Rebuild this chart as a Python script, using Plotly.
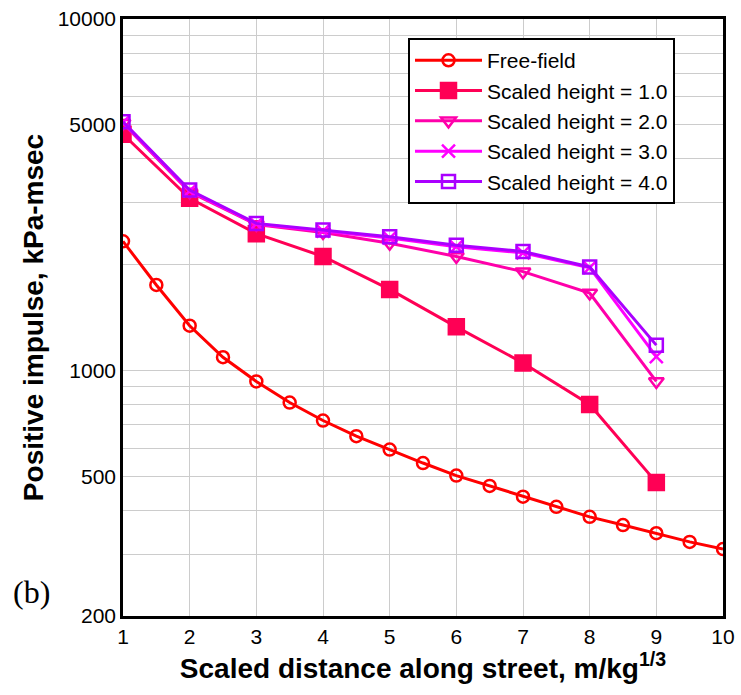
import plotly.graph_objects as go

x_free = [1, 1.5, 2, 2.5, 3, 3.5, 4, 4.5, 5, 5.5, 6, 6.5, 7, 7.5, 8, 8.5, 9, 9.5, 10]
free_field = [2330, 1750, 1340, 1090, 930, 810, 720, 650, 595, 545, 502, 469, 437, 409, 383, 363, 344, 325, 310]

x_street = [1, 2, 3, 4, 5, 6, 7, 8, 9]
h1 = [4700, 3090, 2450, 2110, 1700, 1330, 1050, 800, 480]
h2 = [5050, 3220, 2600, 2470, 2300, 2110, 1910, 1660, 930]
h3 = [5080, 3240, 2610, 2490, 2380, 2250, 2160, 1960, 1095]
h4 = [5100, 3260, 2620, 2510, 2400, 2270, 2180, 1970, 1180]

series = [
    ("Free-field", x_free, free_field, "#FF0000", "circle-open", 12),
    ("Scaled height = 1.0", x_street, h1, "#FF0055", "square", 15),
    ("Scaled height = 2.0", x_street, h2, "#FF00AA", "triangle-down-open", 13),
    ("Scaled height = 3.0", x_street, h3, "#FF00FF", "x-thin-open", 13),
    ("Scaled height = 4.0", x_street, h4, "#AA00FF", "square-open", 13),
]

y_grid = [200, 300, 400, 500, 600, 700, 800, 900, 1000, 2000, 3000, 4000, 5000, 6000, 7000, 8000, 9000, 10000]
y_labels = {200: "200", 500: "500", 1000: "1000", 5000: "5000", 10000: "10000"}

fig = go.Figure()
for name, xs, ys, color, sym, size in series:
    fig.add_trace(go.Scatter(
        x=xs, y=ys, name=name, mode="lines+markers",
        line=dict(color=color, width=3),
        marker=dict(symbol=sym, size=size, color=color,
                    line=dict(color=color, width=2.5)),
    ))

fig.update_layout(
    width=741, height=695,
    margin=dict(l=123, r=18, t=19, b=79),
    paper_bgcolor="white", plot_bgcolor="white",
    font=dict(family="Liberation Sans, Arial, sans-serif", size=21, color="black"),
    showlegend=True,
    legend=dict(x=0.475, y=0.968, xanchor="left", yanchor="top",
                bordercolor="black", borderwidth=2, bgcolor="white",
                font=dict(size=21), itemwidth=67, tracegroupgap=0),
)

fig.update_xaxes(
    range=[1, 10], tickmode="array", tickvals=list(range(1, 11)),
    ticktext=[str(i) for i in range(1, 11)],
    tickfont=dict(size=21), automargin=False,
    showgrid=True, gridcolor="#cccccc", gridwidth=1,
    showline=True, linecolor="black", linewidth=2.5, mirror=True,
    ticks="", zeroline=False,
    title=dict(text="<b>Scaled distance along street, m/kg<sup>1/3</sup></b>",
               font=dict(size=28), standoff=2),
)
fig.update_yaxes(
    type="log", range=[2.30103, 4],
    tickmode="array", tickvals=y_grid,
    ticktext=[y_labels.get(v, "") for v in y_grid],
    tickfont=dict(size=21), automargin=False,
    showgrid=True, gridcolor="#cccccc", gridwidth=1,
    showline=True, linecolor="black", linewidth=2.5, mirror=True,
    ticks="", zeroline=False,
    title=dict(text="<b>Positive impulse, kPa-msec</b>", font=dict(size=28), standoff=6),
)

fig.add_annotation(text="(b)", xref="paper", yref="paper", x=-0.187, y=0.04,
                   xanchor="left", yanchor="middle", showarrow=False,
                   font=dict(family="Liberation Serif, Times New Roman, serif", size=32, color="black"))

fig.write_html("out.html")
